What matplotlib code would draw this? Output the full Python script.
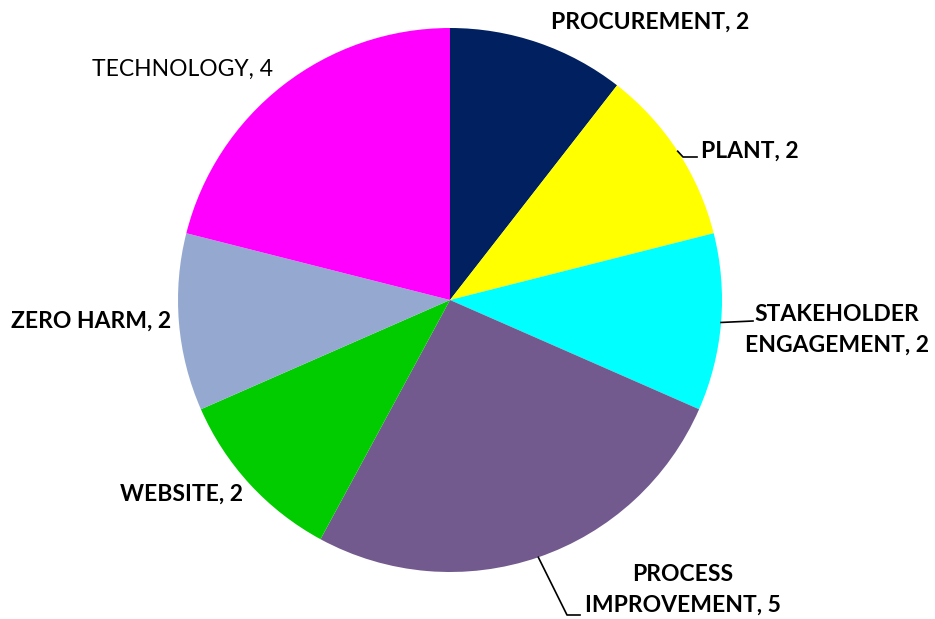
import matplotlib.pyplot as plt
import numpy as np

# data
categories = ['PROCUREMENT', 'PLANT', 'STAKEHOLDER\nENGAGEMENT', 'PROCESS\nIMPROVEMENT',
              'WEBSITE', 'ZERO HARM', 'TECHNOLOGY']
values = [2, 2, 2, 5, 2, 2, 4]
colors = ['#002060', '#FFFF00', '#00FFFF', '#725A8E', '#00CC00', '#95A9D0', '#FF00FF']
bold = [True, True, True, True, True, True, False]

W, H = 935, 619
fig = plt.figure(figsize=(W / 100, H / 100), dpi=100)
ax = fig.add_axes([0, 0, 1, 1])

cx, cy, r = 450, 300, 272
# y axis is inverted, so counterclock=True draws clockwise on screen
wedges, _ = ax.pie(values, colors=colors, startangle=-90, counterclock=True,
                   center=(cx, cy), radius=r, frame=True,
                   wedgeprops=dict(linewidth=0))
ax.set_xlim(0, W)
ax.set_ylim(H, 0)
ax.set_aspect('equal')
ax.axis('off')

# label placement (text centre, pixel coords) and leader line elbow
label_pos = [(650, 22), (750, 151), (837, 330), (683, 590), (182, 494), (91, 321), (182, 69)]
leaders = {1: [(683, 157), (697, 157)],
           2: [(753, 321)],
           3: [(567, 615), (580, 615)]}

for i, w in enumerate(wedges):
    txt = f"{categories[i]}, {values[i]}"
    ax.text(label_pos[i][0], label_pos[i][1], txt, ha='center', va='center',
            fontsize=16.5, family='Lato', fontweight='bold' if bold[i] else 'normal',
            linespacing=1.55, color='black')
    if i in leaders:
        mid = np.deg2rad((w.theta1 + w.theta2) / 2)
        x0 = cx + r * np.cos(mid)
        y0 = cy + r * np.sin(mid)
        pts = [(x0, y0)] + leaders[i]
        ax.plot([p[0] for p in pts], [p[1] for p in pts], color='black', lw=1.2)

fig.savefig('out.png', dpi=100)
